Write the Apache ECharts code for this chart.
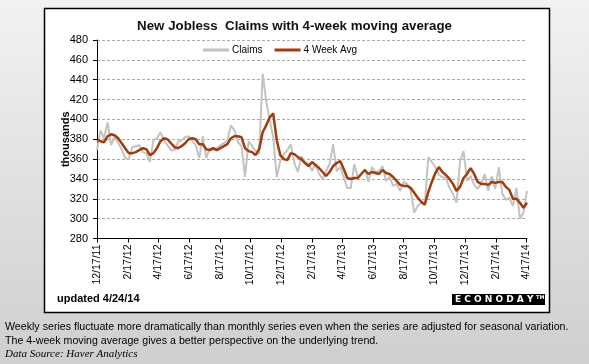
<!DOCTYPE html>
<html><head><meta charset="utf-8">
<script src="https://cdn.jsdelivr.net/npm/echarts@6/dist/echarts.min.js"></script>
<style>html,body{margin:0;padding:0;}#c{width:589px;height:364px;}</style>
</head><body><div id="c"></div>
<script>
const startDate = '2011-12-17';
const claims = [369,389,381,397,374,383,376,370,361,360,372,373,374,367,366,357,379,381,387,379,374,369,369,377,379,382,383,379,374,361,383,361,371,369,371,374,376,379,394,389,377,373,342,378,373,368,365,446,419,399,382,342,358,365,369,375,356,347,363,357,355,348,355,345,340,348,355,375,348,352,342,331,331,355,342,345,350,337,352,347,348,353,338,342,333,335,328,337,335,328,306,313,316,315,362,357,352,344,342,341,331,325,316,358,368,338,343,334,330,335,345,328,343,330,352,325,319,321,313,331,300,306,328];
const avg4wk = [380,378,377,383,385,384,381,376,371,366,366,367,369,371,370,364,366,371,378,381,380,376,372,371,373,376,380,381,380,375,375,370,369,371,369,371,373,375,381,383,383,382,371,368,367,364,370,387,394,402,406,379,364,360,359,366,365,362,360,356,353,357,354,351,347,343,347,353,356,358,350,341,340,341,341,345,349,345,347,346,345,349,346,345,342,338,334,333,333,331,326,321,317,314,327,337,346,352,347,344,340,335,328,332,341,345,351,345,337,335,335,334,337,336,337,337,332,329,320,320,316,311,316];
const tickLabels = ['12/17/11','2/17/12','4/17/12','6/17/12','8/17/12','10/17/12','12/17/12','2/17/13','4/17/13','6/17/13','8/17/13','10/17/13','12/17/13','2/17/14','4/17/14'];
const yTicks = {min: 280, max: 480, step: 20};

const DAY = 86400000;
const t0 = Date.UTC(2011, 11, 17);
function labelToDay(s) {
  const p = s.split('/');
  return Math.round((Date.UTC(2000 + (+p[2]), (+p[0]) - 1, +p[1]) - t0) / DAY);
}
const tickDays = tickLabels.map(labelToDay);
const labelByDay = {};
tickDays.forEach((d, i) => { labelByDay[d] = tickLabels[i]; });
const weekDays = claims.map((_, i) => i * 7);
const claimsData = claims.map((v, i) => [weekDays[i], v]);
const avgData = avg4wk.map((v, i) => [weekDays[i], v]);

const chart = echarts.init(document.getElementById('c'), null, {renderer: 'canvas'});
chart.setOption({
  animation: false,
  backgroundColor: {type: 'linear', x: 0, y: 0, x2: 0, y2: 1,
    colorStops: [{offset: 0, color: '#f2f2f2'}, {offset: 1, color: '#cfcfcf'}]},
  graphic: [
    {type: 'rect', z: -10, shape: {x: 44.5, y: 8.5, width: 505, height: 304},
     style: {fill: '#ffffff', stroke: '#000000', lineWidth: 1.5}},
    {type: 'text', left: 57, top: 293, style: {text: 'updated 4/24/14', font: 'bold 11px "Liberation Sans", Arial, sans-serif', fill: '#000'}},
    {type: 'rect', shape: {x: 452, y: 294, width: 93, height: 11}, style: {fill: '#000'}},
    {type: 'text', left: 455, top: 295, style: {text: 'E C O N O D A Y', font: 'bold 9px "DejaVu Sans", sans-serif', fill: '#fff'}},
    {type: 'text', left: 536, top: 295, style: {text: 'TM', font: 'bold 5px "DejaVu Sans", sans-serif', fill: '#fff'}},
    {type: 'text', left: 5, top: 322, style: {text: 'Weekly series fluctuate more dramatically than monthly series even when the series are adjusted for seasonal variation.', font: '10.65px "Liberation Sans", Arial, sans-serif', fill: '#000'}},
    {type: 'text', left: 5, top: 336, style: {text: 'The 4-week moving average gives a better perspective on the underlying trend.', font: '10.65px "Liberation Sans", Arial, sans-serif', fill: '#000'}},
    {type: 'text', left: 5, top: 349, style: {text: 'Data Source: Haver Analytics', font: 'italic 11px "Liberation Serif", "Times New Roman", serif', fill: '#000'}}
  ],
  title: {
    text: 'New Jobless  Claims with 4-week moving average',
    left: 'center', top: 15,
    textStyle: {fontFamily: '"Liberation Sans", Arial, sans-serif', fontSize: 13.3, fontWeight: 'bold', color: '#111'}
  },
  legend: {
    top: 40, left: 198,
    icon: 'rect', itemWidth: 26, itemHeight: 3, itemGap: 12,
    textStyle: {fontFamily: '"Liberation Sans", Arial, sans-serif', fontSize: 10, color: '#000', padding: [0, 0, 0, -2]},
    data: ['Claims', '4 Week Avg']
  },
  grid: {left: 97, top: 40, width: 430, height: 198.5, containLabel: false},
  xAxis: {
    type: 'value', min: 0, max: 854,
    axisLine: {show: true, lineStyle: {color: '#000', width: 1}},
    axisTick: {show: true, length: 4, lineStyle: {color: '#000'}, customValues: tickDays},
    axisLabel: {show: true, rotate: 90, margin: 6, customValues: tickDays,
      fontFamily: '"Liberation Sans", Arial, sans-serif', fontSize: 10.5, color: '#000',
      formatter: v => labelByDay[Math.round(v)] || ''},
    splitLine: {show: false}
  },
  yAxis: {
    type: 'value', min: yTicks.min, max: yTicks.max, interval: yTicks.step,
    name: 'thousands', nameLocation: 'middle', nameGap: 26, nameMoveOverlap: false,
    nameTextStyle: {fontFamily: '"Liberation Sans", Arial, sans-serif', fontSize: 11, fontWeight: 'bold', color: '#000'},
    axisLine: {show: true, lineStyle: {color: '#000', width: 1}},
    axisTick: {show: true, length: 4, lineStyle: {color: '#000'}},
    axisLabel: {margin: 9, fontFamily: '"Liberation Sans", Arial, sans-serif', fontSize: 11, color: '#000'},
    splitLine: {show: true, lineStyle: {color: '#aaaaaa', type: [3, 2], width: 1}}
  },
  series: [
    {name: 'Claims', type: 'line', data: claimsData, symbol: 'none', clip: false,
     lineStyle: {color: '#c3c3c3', width: 2}, itemStyle: {color: '#c3c3c3'}},
    {name: '4 Week Avg', type: 'line', data: avgData, symbol: 'none', clip: false,
     lineStyle: {color: '#a13c0d', width: 2.5}, itemStyle: {color: '#a13c0d'}}
  ]
});
</script></body></html>
